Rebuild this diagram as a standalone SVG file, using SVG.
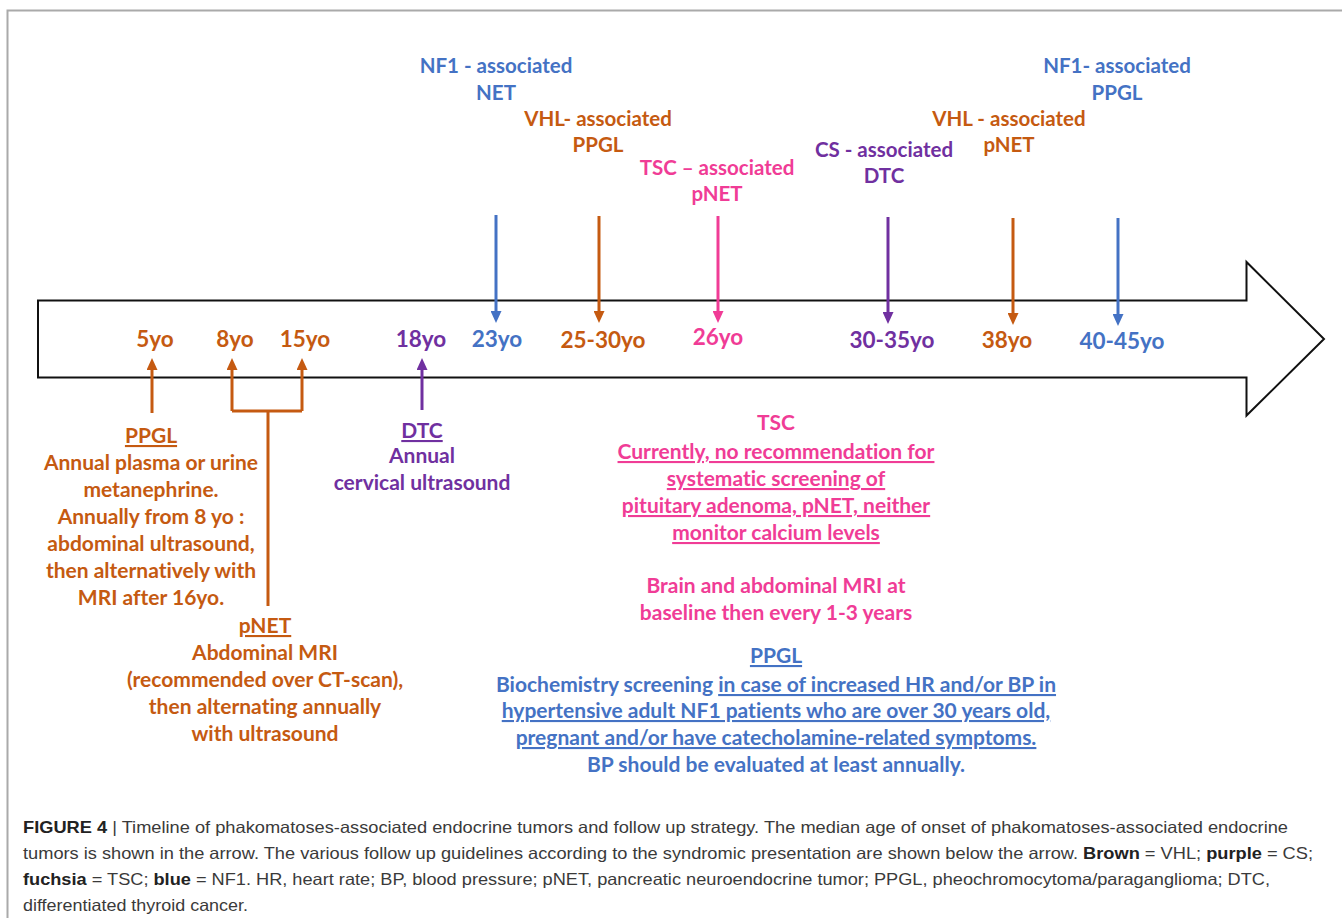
<svg xmlns="http://www.w3.org/2000/svg" width="1342" height="918" viewBox="0 0 1342 918">
<style>
.t{font-family:Lato,"Open Sans","Liberation Sans",sans-serif;font-weight:bold;text-anchor:middle;font-variant-ligatures:none}
.lab{font-size:20.5px}
.age{font-size:22.5px}
.body{font-size:21px}
.u{text-decoration:underline}
.or{fill:#C55A11}.bl{fill:#4472C4}.pu{fill:#7030A0}.pk{fill:#F03C96}
.so{stroke:#C55A11}.sb{stroke:#4472C4}.sp{stroke:#7030A0}.sk{stroke:#F03C96}
.ln{stroke-width:3;fill:none}
.cap{font-family:"Liberation Sans",Arial,sans-serif;font-size:16.5px;fill:#3a3a3a}
.cap .b{font-weight:bold;fill:#222}
</style>
<defs>
<marker id="mo" viewBox="0 0 12 11" refX="1" refY="5.5" markerWidth="12" markerHeight="11" markerUnits="userSpaceOnUse" orient="auto"><path d="M0,0 L12,5.5 L0,11 z" fill="#C55A11"/></marker>
<marker id="mb" viewBox="0 0 12 11" refX="1" refY="5.5" markerWidth="12" markerHeight="11" markerUnits="userSpaceOnUse" orient="auto"><path d="M0,0 L12,5.5 L0,11 z" fill="#4472C4"/></marker>
<marker id="mp" viewBox="0 0 12 11" refX="1" refY="5.5" markerWidth="12" markerHeight="11" markerUnits="userSpaceOnUse" orient="auto"><path d="M0,0 L12,5.5 L0,11 z" fill="#7030A0"/></marker>
<marker id="mk" viewBox="0 0 12 11" refX="1" refY="5.5" markerWidth="12" markerHeight="11" markerUnits="userSpaceOnUse" orient="auto"><path d="M0,0 L12,5.5 L0,11 z" fill="#F03C96"/></marker>
</defs>
<rect width="1342" height="918" fill="#fff"/>
<path d="M7.5,918 V10.5 H1342" fill="none" stroke="#aaa" stroke-width="2"/>

<g id="timeline-arrow">
<path d="M38,300.5 H1246.5 V262 L1324,339 L1246.5,415.5 V377.5 H38 Z" fill="#fff" stroke="#111" stroke-width="2"/>
</g>

<g id="ages" class="t age">
<text class="or" x="155" y="347">5yo</text>
<text class="or" x="235" y="347">8yo</text>
<text class="or" x="305" y="347">15yo</text>
<text class="pu" x="421" y="347">18yo</text>
<text class="bl" x="497" y="347">23yo</text>
<text class="or" x="603" y="348">25-30yo</text>
<text class="pk" x="718" y="345">26yo</text>
<text class="pu" x="892" y="348">30-35yo</text>
<text class="or" x="1007" y="348">38yo</text>
<text class="bl" x="1122" y="349">40-45yo</text>
</g>

<g id="connectors">
<line class="ln sb" x1="496" y1="215" x2="496" y2="312" marker-end="url(#mb)"/>
<line class="ln so" x1="599" y1="216" x2="599" y2="312" marker-end="url(#mo)"/>
<line class="ln sk" x1="718" y1="216" x2="718" y2="312" marker-end="url(#mk)"/>
<line class="ln sp" x1="888" y1="217" x2="888" y2="313" marker-end="url(#mp)"/>
<line class="ln so" x1="1013" y1="218" x2="1013" y2="314" marker-end="url(#mo)"/>
<line class="ln sb" x1="1118" y1="218" x2="1118" y2="315" marker-end="url(#mb)"/>
<line class="ln so" x1="152" y1="413" x2="152" y2="369" marker-end="url(#mo)"/>
<line class="ln so" x1="232" y1="411" x2="232" y2="369" marker-end="url(#mo)"/>
<line class="ln so" x1="302" y1="411" x2="302" y2="369" marker-end="url(#mo)"/>
<path class="ln so" d="M232,411 H302 M268,411 V606"/>
<line class="ln sp" x1="422" y1="410" x2="422" y2="369" marker-end="url(#mp)"/>
</g>

<g id="label-nf1-net" class="t lab bl"><text x="496" y="73">NF1 - associated</text><text x="496" y="100">NET</text></g>
<g id="label-vhl-ppgl" class="t lab or"><text x="598" y="126">VHL- associated</text><text x="598" y="152">PPGL</text></g>
<g id="label-tsc-pnet" class="t lab pk"><text x="717" y="175">TSC – associated</text><text x="717" y="201">pNET</text></g>
<g id="label-cs-dtc" class="t lab pu"><text x="884" y="157">CS - associated</text><text x="884" y="183">DTC</text></g>
<g id="label-vhl-pnet" class="t lab or"><text x="1009" y="126">VHL - associated</text><text x="1009" y="152">pNET</text></g>
<g id="label-nf1-ppgl" class="t lab bl"><text x="1117" y="73">NF1- associated</text><text x="1117" y="100">PPGL</text></g>

<g id="note-vhl-ppgl" class="t body or">
<text class="u" x="151" y="443">PPGL</text>
<text x="151" y="470">Annual plasma or urine</text>
<text x="151" y="497">metanephrine.</text>
<text x="151" y="524">Annually from 8 yo :</text>
<text x="151" y="551">abdominal ultrasound,</text>
<text x="151" y="578">then alternatively with</text>
<text x="151" y="605">MRI after 16yo.</text>
</g>

<g id="note-vhl-pnet" class="t body or">
<text class="u" x="265" y="633">pNET</text>
<text x="265" y="660">Abdominal MRI</text>
<text x="265" y="687">(recommended over CT-scan),</text>
<text x="265" y="714">then alternating annually</text>
<text x="265" y="741">with ultrasound</text>
</g>

<g id="note-cs-dtc" class="t body pu">
<text class="u" x="422" y="438">DTC</text>
<text x="422" y="463">Annual</text>
<text x="422" y="490">cervical ultrasound</text>
</g>

<g id="note-tsc" class="t body pk">
<text x="776" y="430">TSC</text>
<text class="u" x="776" y="459">Currently, no recommendation for</text>
<text class="u" x="776" y="486">systematic screening of</text>
<text class="u" x="776" y="513">pituitary adenoma, pNET, neither</text>
<text class="u" x="776" y="540">monitor calcium levels</text>
<text x="776" y="593">Brain and abdominal MRI at</text>
<text x="776" y="620">baseline then every 1-3 years</text>
</g>

<g id="note-nf1-ppgl" class="t body bl">
<text class="u" x="776" y="663">PPGL</text>
<text x="776" y="692">Biochemistry screening <tspan class="u">in case of increased HR and/or BP in</tspan></text>
<text class="u" x="776" y="718">hypertensive adult NF1 patients who are over 30 years old,</text>
<text class="u" x="776" y="745">pregnant and/or have catecholamine-related symptoms.</text>
<text x="776" y="772">BP should be evaluated at least annually.</text>
</g>

<g id="caption" class="cap">
<text x="23" y="833" textLength="1265" lengthAdjust="spacingAndGlyphs"><tspan class="b">FIGURE 4</tspan> | Timeline of phakomatoses-associated endocrine tumors and follow up strategy. The median age of onset of phakomatoses-associated endocrine</text>
<text x="23" y="859" textLength="1290" lengthAdjust="spacingAndGlyphs">tumors is shown in the arrow. The various follow up guidelines according to the syndromic presentation are shown below the arrow. <tspan class="b">Brown</tspan> = VHL; <tspan class="b">purple</tspan> = CS;</text>
<text x="23" y="885" textLength="1247" lengthAdjust="spacingAndGlyphs"><tspan class="b">fuchsia</tspan> = TSC; <tspan class="b">blue</tspan> = NF1. HR, heart rate; BP, blood pressure; pNET, pancreatic neuroendocrine tumor; PPGL, pheochromocytoma/paraganglioma; DTC,</text>
<text x="23" y="911" textLength="225" lengthAdjust="spacingAndGlyphs">differentiated thyroid cancer.</text>
</g>
</svg>
